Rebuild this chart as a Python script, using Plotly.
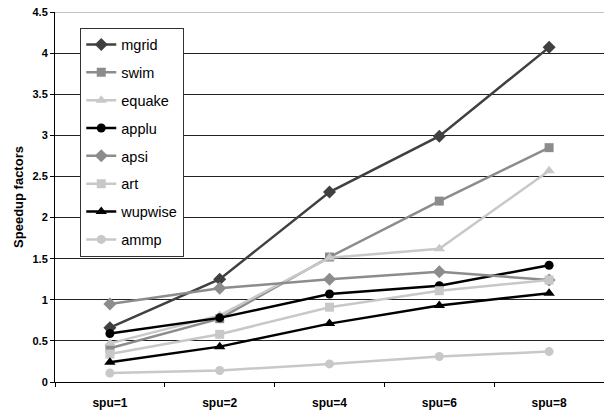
import plotly.graph_objects as go

categories = ["spu=1", "spu=2", "spu=4", "spu=6", "spu=8"]

mgrid = [0.66, 1.25, 2.31, 2.99, 4.07]
swim = [0.41, 0.77, 1.52, 2.20, 2.85]
equake = [0.47, 0.81, 1.51, 1.62, 2.57]
applu = [0.59, 0.78, 1.07, 1.17, 1.42]
apsi = [0.95, 1.14, 1.25, 1.34, 1.24]
art = [0.34, 0.58, 0.91, 1.11, 1.24]
wupwise = [0.24, 0.43, 0.71, 0.93, 1.08]
ammp = [0.11, 0.14, 0.22, 0.31, 0.37]

y_ticks = [0, 0.5, 1, 1.5, 2, 2.5, 3, 3.5, 4, 4.5]
y_labels = ["0", "0.5", "1", "1.5", "2", "2.5", "3", "3.5", "4", "4.5"]

series = [
    ("mgrid", mgrid, "#404040", "diamond"),
    ("swim", swim, "#8c8c8c", "square"),
    ("equake", equake, "#c8c8c8", "triangle-up"),
    ("applu", applu, "#000000", "circle"),
    ("apsi", apsi, "#8c8c8c", "diamond"),
    ("art", art, "#c8c8c8", "square"),
    ("wupwise", wupwise, "#000000", "triangle-up"),
    ("ammp", ammp, "#c8c8c8", "circle"),
]

sizes = {"diamond": 10, "square": 9, "triangle-up": 10, "circle": 9}

fig = go.Figure()
for name, vals, color, sym in series:
    fig.add_trace(go.Scatter(
        x=categories, y=vals, name=name, mode="lines+markers",
        line=dict(color=color, width=2.5),
        marker=dict(color=color, symbol=sym, size=sizes[sym]),
        legendgroup=name,
    ))

fig.add_shape(type="line", xref="paper", yref="y", x0=0, x1=1, y0=4.5, y1=4.5,
              line=dict(color="#888888", width=1))

fig.update_layout(
    width=604, height=413,
    margin=dict(l=55, r=0, t=12, b=31),
    plot_bgcolor="white", paper_bgcolor="white",
    font=dict(family="Liberation Sans, Arial, sans-serif", color="black"),
    showlegend=True,
    legend=dict(
        x=0.046, y=0.958, xanchor="left", yanchor="top",
        bgcolor="white", bordercolor="#333333", borderwidth=1,
        font=dict(size=14.5, color="black"),
        traceorder="grouped", tracegroupgap=6,
        itemwidth=30,
    ),
    xaxis=dict(
        type="category", range=[-0.5, 4.5], automargin=False,
        showline=True, linecolor="black", linewidth=1,
        ticks="outside", tickson="boundaries", ticklen=4, tickcolor="black",
        showgrid=False, ticklabelstandoff=10,
        tickfont=dict(size=12, family="Liberation Sans, Arial, sans-serif", weight="bold"),
    ),
    yaxis=dict(
        range=[0, 4.5], automargin=False,
        tickmode="array", tickvals=y_ticks, ticktext=y_labels,
        ticklabeloverflow="allow",
        showline=True, linecolor="black", linewidth=1,
        ticks="outside", ticklen=4, tickcolor="black",
        showgrid=True, gridcolor="#222222", gridwidth=1,
        zeroline=False,
        tickfont=dict(size=11, family="Liberation Sans, Arial, sans-serif", weight="bold"),
        title=dict(text="Speedup factors", standoff=5,
                   font=dict(size=13, family="Liberation Sans, Arial, sans-serif", weight="bold")),
    ),
)

fig.write_html("out.html", config={"displayModeBar": False},
               post_script="document.body.style.margin='0';")
